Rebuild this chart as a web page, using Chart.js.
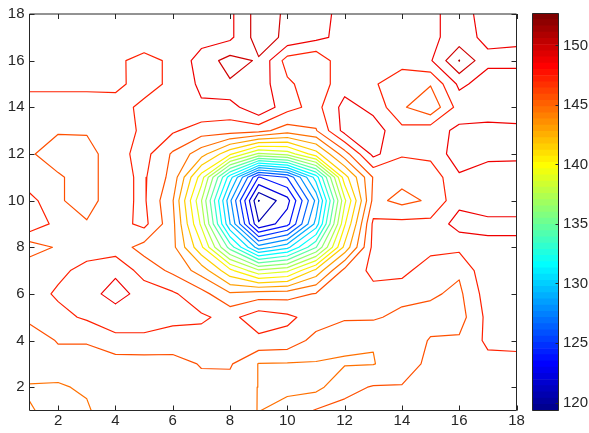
<!DOCTYPE html>
<html>
<head>
<meta charset="utf-8">
<script src="https://cdn.jsdelivr.net/npm/chart.js@4/dist/chart.umd.min.js"></script>
<style>
  html, body { margin: 0; padding: 0; background: #fff; }
  #wrap { position: relative; width: 589px; height: 433px; }
  #main { position: absolute; left: 0; top: 0; }
  #cbar { position: absolute; left: 531px; top: 0; }
</style>
</head>
<body>
<div id="wrap">
  <canvas id="main" width="589" height="433"></canvas>
  <canvas id="cbar" width="58" height="433"></canvas>
</div>
<script>
// grid coordinates
const X_VALUES = [1, 2, 3, 4, 5, 6, 7, 8, 9, 10, 11, 12, 13, 14, 15, 16, 17, 18];
const Y_VALUES = [1, 2, 3, 4, 5, 6, 7, 8, 9, 10, 11, 12, 13, 14, 15, 16, 17, 18];

// Z_GRID[row for Y_VALUES][col for X_VALUES]
const Z_GRID = [
  [144.5, 144.0, 144.2, 145.5, 145.5, 145.4, 145.4, 145.2, 144.35, 145.0, 145.9, 146.2, 146.3, 146.4, 146.4, 146.5, 146.6, 146.6],
  [144.25, 144.25, 144.6, 145.2, 145.5, 145.4, 145.36, 145.3, 144.35, 144.0, 144.0, 145.4, 145.9, 145.9, 146.2, 146.3, 146.5, 146.6],
  [145.3, 145.0, 145.0, 145.04, 145.1, 145.2, 145.91, 145.95, 144.35, 144.3, 144.3, 144.3, 144.35, 145.0, 146.2, 146.2, 146.75, 146.75],
  [144.6, 145.95, 145.95, 146.9, 146.9, 146.7, 146.7, 146.7, 146.86, 146.7, 145.3, 144.6, 144.45, 145.0, 145.9, 146.0, 147.5, 147.6],
  [146.3, 146.8, 147.4, 147.8, 147.8, 147.5, 147.4, 146.8, 148.0, 147.5, 146.6, 146.0, 146.0, 145.4, 145.3, 145.2, 147.6, 147.8],
  [146.6, 147.4, 148.0, 149.2, 148.0, 147.4, 146.3, 144.6, 145.1, 145.2, 145.9, 146.4, 146.8, 146.3, 146.0, 145.5, 147.9, 148.0],
  [146.9, 146.9, 147.6, 148.3, 146.6, 145.5, 143.8, 140.6, 137.7, 138.5, 142.0, 146.2, 147.54, 147.66, 146.35, 146.0, 148.3, 148.2],
  [145.0, 146.0, 146.6, 146.5, 145.3, 144.8, 140.5, 134.0, 128.3, 130.0, 134.5, 142.0, 147.6, 147.8, 147.7, 147.53, 148.2, 148.2],
  [148.3, 146.7, 145.95, 146.6, 147.6, 144.8, 138.5, 129.1, 120.85, 123.0, 129.5, 140.0, 147.5, 147.6, 147.6, 149.18, 149.0, 149.0],
  [147.7, 146.0, 145.1, 146.85, 147.4, 144.5, 137.5, 128.0, 119.28, 121.6, 128.0, 138.5, 146.2, 145.4, 146.0, 148.2, 147.7, 147.7],
  [146.2, 146.0, 145.1, 146.85, 147.4, 145.3, 139.5, 131.0, 123.4, 125.0, 131.0, 141.0, 145.9, 146.2, 146.3, 148.4, 147.4, 147.67],
  [146.0, 145.0, 145.2, 146.7, 147.7, 145.6, 143.6, 140.5, 137.2, 138.0, 141.0, 145.2, 149.0, 147.35, 147.6, 149.4, 149.2, 149.0],
  [146.3, 145.95, 145.95, 146.4, 147.5, 147.4, 146.5, 146.5, 146.3, 145.1, 145.7, 149.1, 149.3, 147.6, 148.0, 148.9, 149.0, 148.9],
  [146.6, 146.6, 146.6, 146.7, 147.5, 147.8, 148.4, 148.0, 149.8, 147.7, 146.7, 149.1, 148.2, 146.0, 144.75, 147.8, 147.9, 147.9],
  [147.5, 147.5, 147.5, 147.5, 146.7, 147.48, 148.9, 149.85, 149.36, 147.46, 146.4, 148.0, 147.4, 146.2, 145.9, 148.9, 148.0, 148.0],
  [147.7, 147.8, 147.7, 147.43, 146.8, 147.43, 149.25, 150.5, 149.86, 146.6, 146.0, 148.4, 148.0, 147.8, 148.46, 151.35, 148.9, 148.9],
  [147.9, 148.0, 148.0, 148.0, 147.98, 148.1, 148.0, 148.3, 150.67, 149.7, 149.0, 148.1, 148.0, 147.9, 148.35, 149.1, 148.3, 148.4],
  [147.8, 147.9, 148.0, 148.0, 148.1, 148.2, 148.2, 148.29, 150.66, 149.79, 149.2, 148.1, 148.0, 148.1, 148.24, 149.3, 147.9, 147.9]
];

const LEVELS = [119.33, 120.7, 122.1, 123.5, 124.9, 126.3, 127.7, 129.05, 130.4, 131.8, 133.2, 134.6, 136.05,
  137.45, 138.8, 140.2, 141.6, 143.0, 144.4, 145.8, 147.2, 148.6, 150.0, 151.3, 152.7];

const X_TICKS = [2, 4, 6, 8, 10, 12, 14, 16, 18];
const Y_TICKS = [2, 4, 6, 8, 10, 12, 14, 16, 18];
const CBAR_TICKS = [120, 125, 130, 135, 140, 145, 150];
const C_MIN = 119.33;
const C_MAX = 152.68;

const INK = '#262626';
const FONT = { family: '"Liberation Sans", Arial, Helvetica, sans-serif', size: 15 };

// matlab style jet(64)
function jet(idx) {
  const i = idx + 1;
  const u = (k) => (k < 1 || k > 47) ? 0 : k <= 16 ? k / 16 : k <= 31 ? 1 : (48 - k) / 16;
  const r = u(i - 24), g = u(i - 8), b = u(i + 8);
  return `rgb(${Math.round(r * 255)},${Math.round(g * 255)},${Math.round(b * 255)})`;
}
function colourFor(v) {
  const t = Math.max(0, Math.min(1, (v - C_MIN) / (C_MAX - C_MIN)));
  return jet(Math.min(63, Math.floor(t * 64)));
}

// marching squares, then join the cell pieces into polylines
function traceLevel(level) {
  const nx = X_VALUES.length, ny = Y_VALUES.length;
  const edgePoint = (key) => {
    const [type, i, j] = key;
    if (type === 'h') {
      const a = Z_GRID[j][i], b = Z_GRID[j][i + 1];
      const t = (level - a) / (b - a);
      return { x: X_VALUES[i] + t * (X_VALUES[i + 1] - X_VALUES[i]), y: Y_VALUES[j] };
    }
    const a = Z_GRID[j][i], b = Z_GRID[j + 1][i];
    const t = (level - a) / (b - a);
    return { x: X_VALUES[i], y: Y_VALUES[j] + t * (Y_VALUES[j + 1] - Y_VALUES[j]) };
  };
  const segs = [];
  const add = (e1, e2) => segs.push({ k1: e1.join(','), p1: edgePoint(e1), k2: e2.join(','), p2: edgePoint(e2) });

  for (let j = 0; j < ny - 1; j++) {
    for (let i = 0; i < nx - 1; i++) {
      const a = Z_GRID[j][i], b = Z_GRID[j][i + 1], c = Z_GRID[j + 1][i + 1], d = Z_GRID[j + 1][i];
      const sa = a > level, sb = b > level, sc = c > level, sd = d > level;
      const E = { B: ['h', i, j], R: ['v', i + 1, j], T: ['h', i, j + 1], L: ['v', i, j] };
      const crossed = [];
      if (sa !== sb) crossed.push(E.B);
      if (sb !== sc) crossed.push(E.R);
      if (sc !== sd) crossed.push(E.T);
      if (sd !== sa) crossed.push(E.L);
      if (crossed.length === 2) {
        add(crossed[0], crossed[1]);
      } else if (crossed.length === 4) {
        const centreUp = (a + b + c + d) / 4 > level;
        if (sa === centreUp) { add(E.B, E.R); add(E.T, E.L); }
        else { add(E.L, E.B); add(E.R, E.T); }
      }
    }
  }

  const byKey = new Map();
  segs.forEach((s, n) => {
    [s.k1, s.k2].forEach((k) => {
      if (!byKey.has(k)) byKey.set(k, []);
      byKey.get(k).push(n);
    });
  });
  const used = new Array(segs.length).fill(false);
  const lines = [];
  for (let n = 0; n < segs.length; n++) {
    if (used[n]) continue;
    used[n] = true;
    const pts = [segs[n].p1, segs[n].p2];
    let key = segs[n].k2;
    for (;;) {
      const m = (byKey.get(key) || []).find((q) => !used[q]);
      if (m === undefined) break;
      used[m] = true;
      if (segs[m].k1 === key) { pts.push(segs[m].p2); key = segs[m].k2; }
      else { pts.push(segs[m].p1); key = segs[m].k1; }
    }
    key = segs[n].k1;
    for (;;) {
      const m = (byKey.get(key) || []).find((q) => !used[q]);
      if (m === undefined) break;
      used[m] = true;
      if (segs[m].k1 === key) { pts.unshift(segs[m].p2); key = segs[m].k2; }
      else { pts.unshift(segs[m].p1); key = segs[m].k1; }
    }
    lines.push(pts);
  }
  return lines;
}

const contourSets = LEVELS.map((level) => {
  const data = [];
  traceLevel(level).forEach((line) => {
    data.push(...line);
    data.push({ x: NaN, y: NaN });
  });
  return {
    data,
    showLine: true,
    borderColor: colourFor(level),
    borderWidth: 1.2,
    pointRadius: 0,
    pointHoverRadius: 0,
    tension: 0,
    fill: false,
    borderCapStyle: 'round',
    borderJoinStyle: 'round'
  };
});

// box with inward ticks on all four sides
const frame = {
  id: 'frame',
  afterDraw(chart) {
    const { ctx, chartArea: a, scales: { x, y } } = chart;
    ctx.save();
    ctx.strokeStyle = INK;
    ctx.lineWidth = 1;
    ctx.beginPath();
    ctx.rect(a.left, a.top, a.right - a.left, a.bottom - a.top);
    X_TICKS.forEach((v) => {
      const p = Math.round(x.getPixelForValue(v)) + 0.5;
      ctx.moveTo(p, a.bottom); ctx.lineTo(p, a.bottom - 5);
      ctx.moveTo(p, a.top); ctx.lineTo(p, a.top + 5);
    });
    Y_TICKS.forEach((v) => {
      const p = Math.round(y.getPixelForValue(v)) + 0.5;
      ctx.moveTo(a.left, p); ctx.lineTo(a.left + 5, p);
      ctx.moveTo(a.right, p); ctx.lineTo(a.right - 5, p);
    });
    ctx.stroke();
    ctx.restore();
  }
};

new Chart(document.getElementById('main'), {
  type: 'scatter',
  data: { datasets: contourSets },
  options: {
    responsive: false,
    animation: false,
    events: [],
    layout: { autoPadding: false, padding: { left: 0, top: 13.5, right: 72.5, bottom: 0 } },
    plugins: { legend: { display: false }, tooltip: { enabled: false } },
    scales: {
      x: {
        type: 'linear', min: 1, max: 18,
        afterBuildTicks: (s) => { s.ticks = X_TICKS.map((v) => ({ value: v })); },
        afterFit: (s) => { s.height = 22.5; },
        grid: { display: false, drawTicks: false },
        border: { display: false },
        ticks: { font: FONT, color: INK, padding: 1, maxRotation: 0, autoSkip: false }
      },
      y: {
        type: 'linear', min: 1, max: 18,
        afterBuildTicks: (s) => { s.ticks = Y_TICKS.map((v) => ({ value: v })); },
        afterFit: (s) => { s.width = 29.5; },
        grid: { display: false, drawTicks: false },
        border: { display: false },
        ticks: { font: FONT, color: INK, padding: 5, autoSkip: false }
      }
    }
  },
  plugins: [frame]
});

// colour bar: 64 floating bars in one column
const BAND = (C_MAX - C_MIN) / 64;
const bandSets = Array.from({ length: 64 }, (_, k) => ({
  data: [[C_MIN + k * BAND, C_MIN + (k + 1) * BAND]],
  backgroundColor: jet(k),
  borderWidth: 0,
  barPercentage: 1,
  categoryPercentage: 1,
  grouped: false
}));

const cbarFrame = {
  id: 'cbarFrame',
  afterDraw(chart) {
    const { ctx, chartArea: a, scales: { y } } = chart;
    ctx.save();
    ctx.strokeStyle = INK;
    ctx.lineWidth = 1;
    ctx.beginPath();
    ctx.rect(a.left + 0.5, a.top, a.right - a.left - 1, a.bottom - a.top);
    CBAR_TICKS.forEach((v) => {
      const p = Math.round(y.getPixelForValue(v)) + 0.5;
      ctx.moveTo(a.right - 0.5, p); ctx.lineTo(a.right - 3.5, p);
    });
    ctx.stroke();
    ctx.restore();
  }
};

new Chart(document.getElementById('cbar'), {
  type: 'bar',
  data: { labels: [''], datasets: bandSets },
  options: {
    responsive: false,
    animation: false,
    events: [],
    layout: { autoPadding: false, padding: { left: 1, top: 13.5, right: 0, bottom: 22.5 } },
    plugins: { legend: { display: false }, tooltip: { enabled: false } },
    scales: {
      x: { display: false },
      y: {
        position: 'right', min: C_MIN, max: C_MAX,
        afterBuildTicks: (s) => { s.ticks = CBAR_TICKS.map((v) => ({ value: v })); },
        afterFit: (s) => { s.width = 30; },
        grid: { display: false, drawTicks: false },
        border: { display: false },
        ticks: { font: FONT, color: INK, padding: 4, autoSkip: false }
      }
    }
  },
  plugins: [cbarFrame]
});
</script>
</body>
</html>
